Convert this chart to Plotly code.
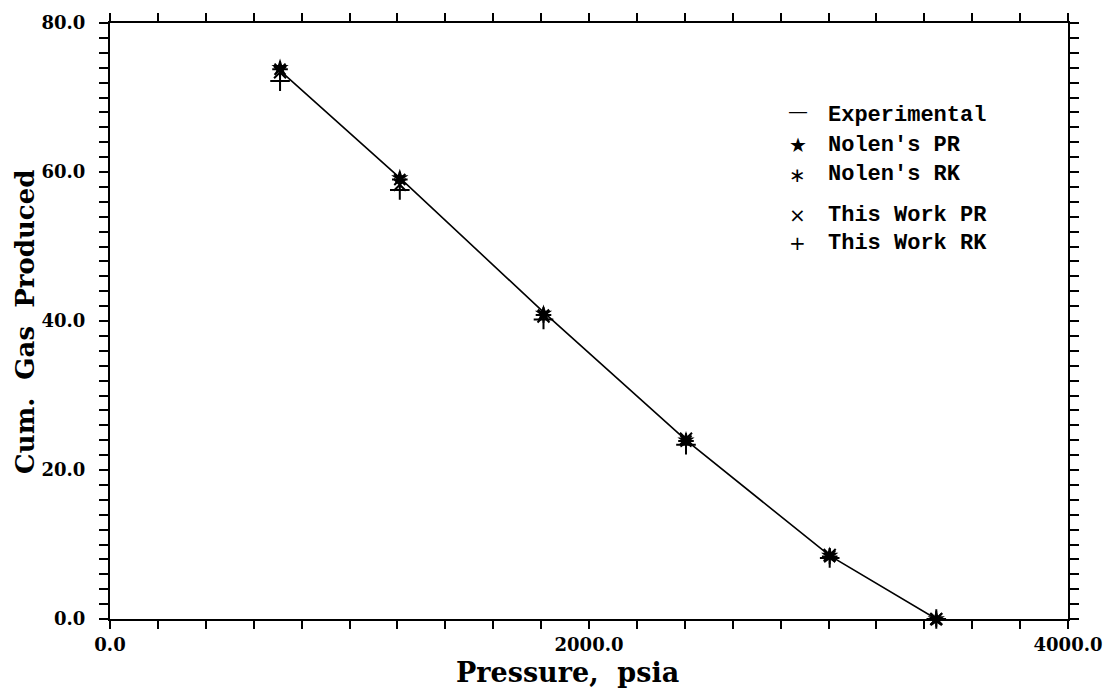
import plotly.graph_objects as go

# Data
pressure = [710, 1210, 1810, 2405, 3005, 3450]
experimental = [73.6, 59.2, 41.2, 24.0, 8.5, 0.0]
nolen_pr = [74.0, 59.2, 41.0, 24.0, 8.5, 0.0]
nolen_rk = [73.8, 59.0, 40.8, 23.9, 8.4, 0.0]
this_pr = [73.4, 58.3, 40.6, 24.2, 8.6, 0.0]
this_rk = [72.2, 57.6, 40.2, 23.4, 8.2, 0.0]

x_tickvals = list(range(0, 4001, 200))
x_ticklabels = {0: "0.0", 2000: "2000.0", 4000: "4000.0"}
y_tickvals = list(range(0, 81, 2))
y_ticklabels = {0: "0.0", 20: "20.0", 40: "40.0", 60: "60.0", 80: "80.0"}

legend_labels = ["Experimental", "Nolen's PR", "Nolen's RK", "This Work PR", "This Work RK"]
legend_symbols = ["\u2014", "\u2605", "\u2217", "\u00d7", "+"]

fig = go.Figure()
fig.add_trace(go.Scatter(x=pressure, y=experimental, mode="lines", cliponaxis=False,
                         line=dict(color="black", width=1.6), name="Experimental"))
fig.add_trace(go.Scatter(x=pressure, y=nolen_pr, mode="markers", cliponaxis=False,
                         marker=dict(symbol="star", size=13, color="black"), name="Nolen's PR"))
fig.add_trace(go.Scatter(x=pressure, y=nolen_rk, mode="markers", cliponaxis=False,
                         marker=dict(symbol="asterisk-open", size=13, color="black",
                                     line=dict(color="black", width=2)), name="Nolen's RK"))
fig.add_trace(go.Scatter(x=pressure, y=this_pr, mode="markers", cliponaxis=False,
                         marker=dict(symbol="x-thin-open", size=12, color="black",
                                     line=dict(color="black", width=2)), name="This Work PR"))
fig.add_trace(go.Scatter(x=pressure, y=this_rk, mode="markers", cliponaxis=False,
                         marker=dict(symbol="cross-thin-open", size=14, color="black",
                                     line=dict(color="black", width=2)), name="This Work RK"))

L, R, T, B = 110, 36, 23, 75
W, H = 1114, 694
pw, ph = W - L - R, H - T - B

def px(xp):
    return (xp - L) / pw

def py(yp):
    return (H - B - yp) / ph

annotations = []
rows_y = [115, 145, 175, 215, 243]
sym_offsets = [-4, 0, 0, 0, 0]
for lab, sym, yy, off in zip(legend_labels, legend_symbols, rows_y, sym_offsets):
    annotations.append(dict(xref="paper", yref="paper", x=px(805), y=py(yy + off), text=sym,
                            showarrow=False, xanchor="center", yanchor="middle",
                            font=dict(family="DejaVu Sans", size=20, color="black")))
    annotations.append(dict(xref="paper", yref="paper", x=px(833), y=py(yy), text="<b>" + lab + "</b>",
                            showarrow=False, xanchor="left", yanchor="middle",
                            font=dict(family="Liberation Mono", size=22, color="black")))

annotations.append(dict(xref="paper", yref="paper", x=px(572), y=py(672), text="<b>Pressure,  psia</b>",
                        showarrow=False, xanchor="center", yanchor="middle",
                        font=dict(family="DejaVu Serif", size=27, color="black")))
annotations.append(dict(xref="paper", yref="paper", x=px(24), y=py(322), text="<b>Cum.  Gas  Produced</b>",
                        showarrow=False, xanchor="center", yanchor="middle", textangle=-90,
                        font=dict(family="DejaVu Serif", size=26, color="black")))

fig.update_layout(
    width=W, height=H,
    margin=dict(l=L, r=R, t=T, b=B),
    paper_bgcolor="white", plot_bgcolor="white",
    showlegend=False,
    annotations=annotations,
    font=dict(family="DejaVu Serif", color="black"),
)
fig.update_xaxes(range=[0, 4000], tickvals=x_tickvals,
                 ticktext=[("<b>" + x_ticklabels[v] + "</b>") if v in x_ticklabels else "" for v in x_tickvals],
                 ticks="outside", ticklen=8, tickwidth=1.5, tickcolor="black",
                 showline=True, linecolor="black", linewidth=2, mirror="allticks",
                 showgrid=False, zeroline=False,
                 tickfont=dict(family="DejaVu Serif", size=18, color="black"))
fig.update_yaxes(range=[0, 80], tickvals=y_tickvals,
                 ticktext=[("<b>" + y_ticklabels[v] + "</b>") if v in y_ticklabels else "" for v in y_tickvals],
                 ticks="outside", ticklen=9, tickwidth=1.5, tickcolor="black",
                 showline=True, linecolor="black", linewidth=2, mirror="allticks",
                 showgrid=False, zeroline=False, ticklabelstandoff=10,
                 tickfont=dict(family="DejaVu Serif", size=18, color="black"))

fig.write_html("out.html")
